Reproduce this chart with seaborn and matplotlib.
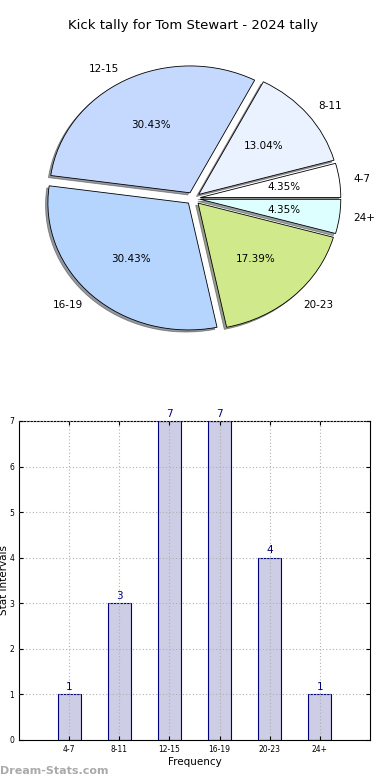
import pandas as pd
import matplotlib
matplotlib.use("Agg")
import matplotlib.pyplot as plt
import seaborn as sns

# ---- Data ----
intervals = ["4-7", "8-11", "12-15", "16-19", "20-23", "24+"]
counts = [1, 3, 7, 7, 4, 1]
slice_colors = ["#ffffff", "#eaf1ff", "#c5d9ff", "#b5d5ff", "#d0ea8b", "#ddffff"]

df = pd.DataFrame({"interval": intervals, "count": counts})

sns.set_style("white")
plt.rcParams["font.family"] = ["DejaVu Sans"]
plt.rcParams["text.color"] = "black"
plt.rcParams["axes.labelcolor"] = "black"
plt.rcParams["xtick.color"] = "black"
plt.rcParams["ytick.color"] = "black"

fig = plt.figure(figsize=(3.9, 7.8), dpi=100)

# ---- Pie chart ----
ax1 = fig.add_axes([0.045, 0.5423, 0.901, 0.4066])
wedges, texts, autotexts = ax1.pie(
    df["count"], labels=df["interval"], colors=slice_colors,
    explode=[0.05] * len(df),
    shadow={"ox": -0.012, "oy": -0.012, "shade": 0.75},
    autopct="%.2f%%", startangle=0, counterclock=True,
    wedgeprops={"edgecolor": "black", "linewidth": 0.6},
    textprops={"fontsize": 7.5, "color": "black"},
)
ax1.set_aspect("auto")
ax1.set_xlim(-1.25, 1.25)
ax1.set_ylim(-1.25, 1.25)
ax1.set_title("Kick tally for Tom Stewart - 2024 tally", fontsize=9.5, pad=8)

# ---- Bar chart ----
ax2 = fig.add_axes([0.0487, 0.0513, 0.9, 0.409])
sns.barplot(data=df, x="interval", y="count", ax=ax2, width=0.46,
            color="#cdcde5", edgecolor="#00007f", linewidth=0.8, saturation=1)
ax2.set_xlim(-1, 6)
ax2.set_ylim(0, 7)
ax2.grid(True, linestyle=(0, (1, 2)), color="#b0b0b0", linewidth=0.8)
ax2.set_axisbelow(False)
for p, c in zip(ax2.patches, df["count"]):
    ax2.text(p.get_x() + p.get_width() / 2, c + 0.05, str(c),
             ha="center", va="bottom", color="#00007f", fontsize=7.5)
ax2.tick_params(axis="both", labelsize=5.5, direction="in", length=3,
                top=True, right=True, bottom=True, left=True)
for s in ax2.spines.values():
    s.set_color("black")
    s.set_linewidth(0.8)
ax2.set_xlabel("Frequency", fontsize=7.5, labelpad=2)
ax2.set_ylabel("Stat Intervals", fontsize=7.5, labelpad=0)

fig.text(0.0, 0.008, "Dream-Stats.com", color="#aaaaaa", fontsize=8,
         fontweight="bold")

fig.savefig("out.png", dpi=100)
